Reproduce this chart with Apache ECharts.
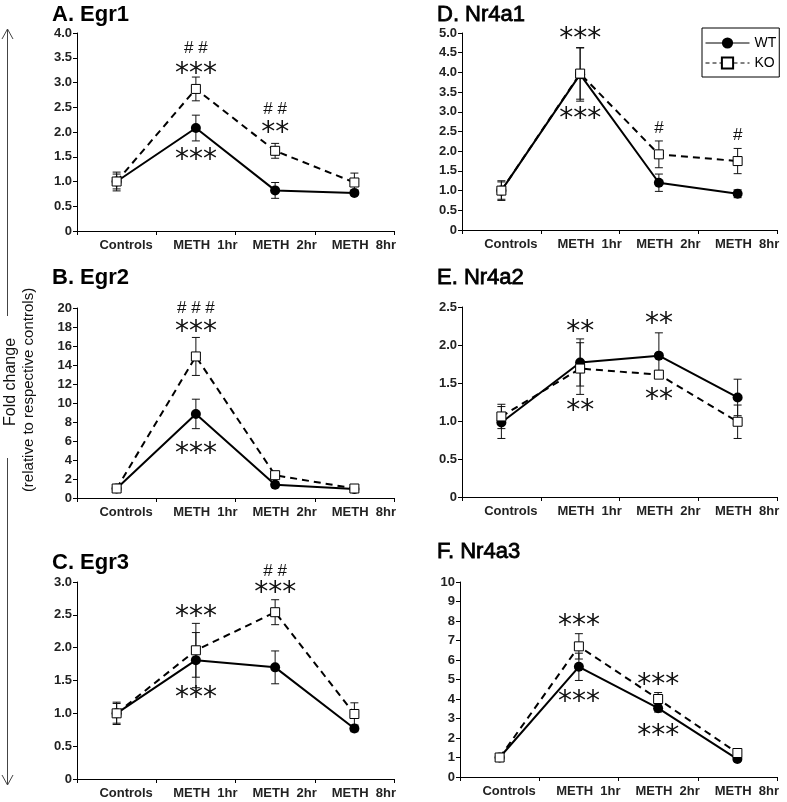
<!DOCTYPE html>
<html>
<head>
<meta charset="utf-8">
<script src="https://cdn.jsdelivr.net/npm/echarts@6/dist/echarts.min.js"></script>
<style>
html,body{margin:0;padding:0;background:#fff;}
#chart{width:787px;height:802px;}
</style>
</head>
<body>
<div id="chart"></div>
<script>
// ---------- data ----------
const categories = ['Controls', 'METH  1hr', 'METH  2hr', 'METH  8hr'];
const seriesNames = ['WT', 'KO'];
const panelTitles = ['A. Egr1', 'B. Egr2', 'C. Egr3', 'D. Nr4a1', 'E. Nr4a2', 'F. Nr4a3'];

// Egr1
const egr1WT = [1.0, 2.08, 0.82, 0.77];
const egr1WTErr = [0.19, 0.26, 0.16, 0.04];
const egr1KO = [1.0, 2.87, 1.62, 0.98];
const egr1KOErr = [0.15, 0.24, 0.15, 0.19];
const egr1Notes = [[1, 3.70, '# #'], [1, 3.29, '***'], [1, 1.55, '***'], [2, 2.45, '# #'], [2, 2.11, '**']];

// Egr2
const egr2WT = [1.0, 8.85, 1.4, 0.95];
const egr2WTErr = [0.2, 1.55, 0.3, 0.1];
const egr2KO = [1.0, 14.9, 2.4, 1.0];
const egr2KOErr = [0.2, 2.0, 0.3, 0.2];
const egr2Notes = [[1, 20.0, '# # #'], [1, 18.06, '***'], [1, 5.26, '***']];

// Egr3
const egr3WT = [1.0, 1.81, 1.70, 0.77];
const egr3WTErr = [0.17, 0.42, 0.25, 0.05];
const egr3KO = [1.0, 1.96, 2.54, 0.99];
const egr3KOErr = [0.15, 0.41, 0.19, 0.17];
const egr3Notes = [[1, 2.56, '***'], [1, 1.33, '***'], [2, 3.17, '# #'], [2, 2.93, '***']];

// Nr4a1
const nr4a1WT = [1.0, 3.95, 1.2, 0.92];
const nr4a1WTErr = [0.25, 0.68, 0.22, 0.1];
const nr4a1KO = [1.0, 3.97, 1.92, 1.75];
const nr4a1KOErr = [0.22, 0.65, 0.34, 0.32];
const nr4a1Notes = [[1, 4.99, '***'], [1, 2.96, '***'], [2, 2.58, '#'], [3, 2.41, '#']];

// Nr4a2
const nr4a2WT = [0.98, 1.77, 1.86, 1.31];
const nr4a2WTErr = [0.21, 0.31, 0.3, 0.24];
const nr4a2KO = [1.06, 1.69, 1.61, 0.99];
const nr4a2KOErr = [0.16, 0.34, 0.05, 0.22];
const nr4a2Notes = [[1, 2.25, '**'], [1, 1.21, '**'], [2, 2.35, '**'], [2, 1.36, '**']];

// Nr4a3
const nr4a3WT = [1.0, 5.65, 3.53, 0.92];
const nr4a3WTErr = [0.1, 0.7, 0.2, 0.1];
const nr4a3KO = [1.0, 6.7, 4.0, 1.23];
const nr4a3KOErr = [0.1, 0.65, 0.33, 0.15];
const nr4a3Notes = [[1, 8.04, '***'], [1, 4.16, '***'], [2, 5.01, '***'], [2, 2.42, '***']];

// y axis ranges (max, interval, decimals)
const yMaxes = [4, 20, 3, 5, 2.5, 10];
const yIntervals = [0.5, 2, 0.5, 0.5, 0.5, 1];
const yDecimals = [1, 0, 1, 1, 1, 0];

const wtSets = [egr1WT, egr2WT, egr3WT, nr4a1WT, nr4a2WT, nr4a3WT];
const wtErrSets = [egr1WTErr, egr2WTErr, egr3WTErr, nr4a1WTErr, nr4a2WTErr, nr4a3WTErr];
const koSets = [egr1KO, egr2KO, egr3KO, nr4a1KO, nr4a2KO, nr4a3KO];
const koErrSets = [egr1KOErr, egr2KOErr, egr3KOErr, nr4a1KOErr, nr4a2KOErr, nr4a3KOErr];
const noteSets = [egr1Notes, egr2Notes, egr3Notes, nr4a1Notes, nr4a2Notes, nr4a3Notes];

// ---------- layout ----------
const FONT = '"Liberation Sans", Arial, sans-serif';
const grids = [
  {left: 77, top: 33, width: 317, height: 198},
  {left: 77, top: 308, width: 317, height: 190},
  {left: 77, top: 582, width: 317, height: 197},
  {left: 462, top: 33, width: 315, height: 197},
  {left: 462, top: 307, width: 315, height: 190},
  {left: 460, top: 582, width: 317, height: 195}
];
const titlePos = [[52, 15, 'bold'], [52, 278, 'bold'], [52, 563, 'bold'], [437, 15, 'normal'], [437, 278, 'normal'], [437, 552, 'normal']];

const chart = echarts.init(document.getElementById('chart'), null, {renderer: 'canvas'});

function errRender(params, api) {
  const x = api.value(0), v = api.value(1), e = api.value(2);
  const top = api.coord([x, v + e]);
  const bot = api.coord([x, v - e]);
  const hw = 4;
  const st = {stroke: '#111', lineWidth: 1, fill: null};
  return {
    type: 'group',
    children: [
      {type: 'line', shape: {x1: top[0], y1: top[1], x2: bot[0], y2: bot[1]}, style: st},
      {type: 'line', shape: {x1: top[0] - hw, y1: top[1], x2: top[0] + hw, y2: top[1]}, style: st},
      {type: 'line', shape: {x1: bot[0] - hw, y1: bot[1], x2: bot[0] + hw, y2: bot[1]}, style: st}
    ]
  };
}

function noteRenderFactory(notes) {
  return function (params, api) {
    const p = api.coord([api.value(0), api.value(1)]);
    const txt = notes[params.dataIndex][2];
    const isStar = txt.indexOf('*') >= 0;
    const fs = isStar ? 28 : 17;
    return {
      type: 'text',
      x: p[0],
      y: p[1] + (isStar ? fs * 0.24 : 0),
      style: {
        text: txt,
        fontSize: fs,
        fontFamily: isStar ? '"DejaVu Sans", sans-serif' : FONT,
        fill: '#111',
        align: 'center',
        verticalAlign: 'middle'
      }
    };
  };
}

const xAxes = [], yAxes = [], series = [];
for (let i = 0; i < 6; i++) {
  xAxes.push({
    type: 'category', gridIndex: i, data: categories, boundaryGap: true,
    axisLine: {show: true, lineStyle: {color: '#000', width: 1}},
    axisTick: {show: true, length: 4, inside: false, lineStyle: {color: '#000'}},
    axisLabel: {show: true, interval: 0, margin: 8, fontSize: 13, fontWeight: 'bold', color: '#222', fontFamily: FONT, padding: [0, 0, 0, 19]},
    splitLine: {show: false}
  });
  yAxes.push({
    type: 'value', gridIndex: i, min: 0, max: yMaxes[i], interval: yIntervals[i],
    axisLine: {show: true, lineStyle: {color: '#000', width: 1}},
    axisTick: {show: true, length: 4, inside: false, lineStyle: {color: '#000'}},
    axisLabel: {
      show: true, margin: 5, fontSize: 13, fontWeight: 'bold', color: '#222', fontFamily: FONT,
      formatter: (function (d) { return function (v) { return v === 0 ? '0' : v.toFixed(d); }; })(yDecimals[i])
    },
    splitLine: {show: false}
  });
  const wt = wtSets[i], ko = koSets[i];
  series.push({
    type: 'custom', name: 'errWT', xAxisIndex: i, yAxisIndex: i, z: 1, silent: true,
    renderItem: errRender,
    data: wt.map((v, k) => [k, v, wtErrSets[i][k]])
  });
  series.push({
    type: 'custom', name: 'errKO', xAxisIndex: i, yAxisIndex: i, z: 1, silent: true,
    renderItem: errRender,
    data: ko.map((v, k) => [k, v, koErrSets[i][k]])
  });
  series.push({
    type: 'line', name: seriesNames[0], xAxisIndex: i, yAxisIndex: i, z: 3, data: wt,
    symbol: 'circle', symbolSize: 10, showSymbol: true, silent: true,
    lineStyle: {color: '#000', width: 2, type: 'solid'},
    itemStyle: {color: '#000', borderColor: '#000', borderWidth: 0},
    emphasis: {disabled: true}
  });
  series.push({
    type: 'line', name: seriesNames[1], xAxisIndex: i, yAxisIndex: i, z: 4, data: ko,
    symbol: 'rect', symbolSize: 9, showSymbol: true, silent: true,
    lineStyle: {color: '#000', width: 2, type: [7, 5]},
    itemStyle: {color: '#fff', borderColor: '#000', borderWidth: 1},
    emphasis: {disabled: true}
  });
  series.push({
    type: 'custom', name: 'notes', xAxisIndex: i, yAxisIndex: i, z: 6, silent: true,
    renderItem: noteRenderFactory(noteSets[i]),
    data: noteSets[i].map(n => [n[0], n[1]])
  });
}

const graphics = [];
for (let i = 0; i < 6; i++) {
  const bold = titlePos[i][2] === 'bold';
  graphics.push({
    type: 'text', x: titlePos[i][0], y: titlePos[i][1],
    style: {
      text: panelTitles[i], fontSize: 22, fontWeight: titlePos[i][2], fontFamily: FONT, fill: '#000',
      stroke: bold ? null : '#000', lineWidth: bold ? 0 : 0.8,
      align: 'left', verticalAlign: 'middle'
    }
  });
}
// y-axis title with arrows
graphics.push({type: 'polyline', shape: {points: [[7.5, 29], [7.5, 316]]}, style: {stroke: '#444', lineWidth: 1, fill: null}});
graphics.push({type: 'polyline', shape: {points: [[2, 39], [7.5, 29], [13, 39]]}, style: {stroke: '#444', lineWidth: 1, fill: null}});
graphics.push({type: 'polyline', shape: {points: [[7.5, 458], [7.5, 785]]}, style: {stroke: '#444', lineWidth: 1, fill: null}});
graphics.push({type: 'polyline', shape: {points: [[2, 775], [7.5, 785], [13, 775]]}, style: {stroke: '#444', lineWidth: 1, fill: null}});
graphics.push({
  type: 'text', x: 11, y: 382, rotation: Math.PI / 2,
  style: {text: 'Fold change', fontSize: 16, fontFamily: FONT, fill: '#111', align: 'center', verticalAlign: 'middle'}
});
graphics.push({
  type: 'text', x: 29, y: 390, rotation: Math.PI / 2,
  style: {text: '(relative to respective controls)', fontSize: 15, fontFamily: FONT, fill: '#111', align: 'center', verticalAlign: 'middle'}
});

const option = {
  animation: false,
  backgroundColor: '#fff',
  textStyle: {fontFamily: FONT},
  grid: grids.map(g => Object.assign({containLabel: false, outerBoundsMode: 'none'}, g)),
  xAxis: xAxes,
  yAxis: yAxes,
  legend: {
    show: true, orient: 'vertical', left: 702, top: 28,
    data: [
      {name: 'WT'},
      {name: 'KO', lineStyle: {type: [4, 3]}}
    ],
    itemWidth: 44, itemHeight: 14, itemGap: 6,
    padding: [8, 3, 7, 3],
    borderColor: '#000', borderWidth: 1, borderRadius: 0,
    backgroundColor: '#fff',
    lineStyle: {width: 1},
    selectedMode: false,
    textStyle: {fontSize: 14, color: '#000', fontFamily: FONT}
  },
  graphic: graphics,
  series: series
};
chart.setOption(option);
</script>
</body>
</html>
